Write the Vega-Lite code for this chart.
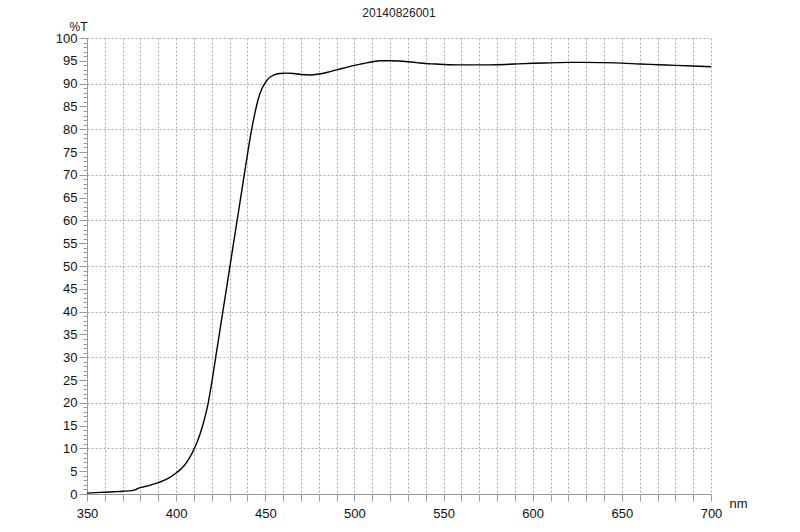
{
  "$schema": "https://vega.github.io/schema/vega-lite/v6.json",
  "autosize": {"type": "none"},
  "width": 624,
  "height": 456,
  "padding": {"left": 87, "top": 38, "right": 89, "bottom": 38},
  "background": "white",
  "config": {"view": {"stroke": null}, "font": "Liberation Sans"},
  "title": {"text": "20140826001", "fontSize": 12, "fontWeight": "normal", "font": "Liberation Sans", "color": "#222", "anchor": "middle", "offset": 0},
  "data": {"values": [
    {"nm": 350, "T": 0.2}, {"nm": 355, "T": 0.3}, {"nm": 360, "T": 0.4}, {"nm": 365, "T": 0.5},
    {"nm": 370, "T": 0.6}, {"nm": 375, "T": 0.75}, {"nm": 377, "T": 0.9}, {"nm": 379, "T": 1.3},
    {"nm": 382, "T": 1.6}, {"nm": 385, "T": 1.9}, {"nm": 390, "T": 2.5}, {"nm": 395, "T": 3.3},
    {"nm": 400, "T": 4.6}, {"nm": 403, "T": 5.6}, {"nm": 406, "T": 7.0}, {"nm": 409, "T": 9.0},
    {"nm": 412, "T": 11.6}, {"nm": 415, "T": 15.2}, {"nm": 418, "T": 20.0}, {"nm": 420, "T": 24.5},
    {"nm": 422, "T": 29.5}, {"nm": 424, "T": 34.5}, {"nm": 426, "T": 39.5}, {"nm": 428, "T": 44.5},
    {"nm": 430, "T": 49.5}, {"nm": 432, "T": 54.5}, {"nm": 434, "T": 59.5}, {"nm": 436, "T": 64.5},
    {"nm": 438, "T": 69.5}, {"nm": 440, "T": 74.5}, {"nm": 442, "T": 79.2}, {"nm": 444, "T": 83.2},
    {"nm": 446, "T": 86.5}, {"nm": 448, "T": 88.8}, {"nm": 450, "T": 90.2}, {"nm": 452, "T": 91.2},
    {"nm": 455, "T": 91.9}, {"nm": 458, "T": 92.2}, {"nm": 462, "T": 92.3}, {"nm": 466, "T": 92.2},
    {"nm": 470, "T": 92.0}, {"nm": 475, "T": 91.9}, {"nm": 480, "T": 92.1}, {"nm": 485, "T": 92.5},
    {"nm": 490, "T": 93.0}, {"nm": 495, "T": 93.5}, {"nm": 500, "T": 94.0}, {"nm": 505, "T": 94.4},
    {"nm": 510, "T": 94.8}, {"nm": 515, "T": 95.0}, {"nm": 520, "T": 95.0}, {"nm": 525, "T": 94.95},
    {"nm": 530, "T": 94.8}, {"nm": 535, "T": 94.6}, {"nm": 540, "T": 94.4}, {"nm": 545, "T": 94.3},
    {"nm": 550, "T": 94.2}, {"nm": 560, "T": 94.1}, {"nm": 570, "T": 94.1}, {"nm": 580, "T": 94.15},
    {"nm": 590, "T": 94.3}, {"nm": 600, "T": 94.45}, {"nm": 610, "T": 94.55}, {"nm": 620, "T": 94.65},
    {"nm": 630, "T": 94.65}, {"nm": 640, "T": 94.6}, {"nm": 650, "T": 94.5}, {"nm": 660, "T": 94.3},
    {"nm": 670, "T": 94.15}, {"nm": 680, "T": 94.0}, {"nm": 690, "T": 93.85}, {"nm": 700, "T": 93.7}
  ]},
  "mark": {"type": "line", "color": "#000", "strokeWidth": 1.4, "interpolate": "monotone"},
  "encoding": {
    "x": {
      "field": "nm", "type": "quantitative",
      "scale": {"domain": [350, 700], "nice": false, "zero": false},
      "axis": {
        "values": [350,360,370,380,390,400,410,420,430,440,450,460,470,480,490,500,510,520,530,540,550,560,570,580,590,600,610,620,630,640,650,660,670,680,690,700],
        "labelExpr": "datum.value % 50 === 0 ? datum.label : ''",
        "labelOverlap": false,
        "labelFlush": false,
        "labelFont": "Liberation Sans", "labelFontSize": 13, "labelColor": "#111",
        "labelPadding": 6,
        "tickSize": 7, "tickColor": "#999", "tickWidth": 1,
        "domainColor": "#999", "domainWidth": 1,
        "grid": true, "gridColor": "#aaa", "gridDash": [2, 2], "gridWidth": 1,
        "title": "nm", "titleFont": "Liberation Sans", "titleFontSize": 13, "titleFontWeight": "normal", "titleColor": "#111",
        "titleX": 651, "titleY": 13, "titleAlign": "center", "titleBaseline": "alphabetic", "titleAnchor": null
      }
    },
    "y": {
      "field": "T", "type": "quantitative",
      "scale": {"domain": [0, 100], "nice": false},
      "axis": {
        "values": [0,1,2,3,4,5,6,7,8,9,10,11,12,13,14,15,16,17,18,19,20,21,22,23,24,25,26,27,28,29,30,31,32,33,34,35,36,37,38,39,40,41,42,43,44,45,46,47,48,49,50,51,52,53,54,55,56,57,58,59,60,61,62,63,64,65,66,67,68,69,70,71,72,73,74,75,76,77,78,79,80,81,82,83,84,85,86,87,88,89,90,91,92,93,94,95,96,97,98,99,100],
        "labelExpr": "datum.value % 5 === 0 ? datum.label : ''",
        "labelOverlap": false,
        "labelFlush": false,
        "labelFont": "Liberation Sans", "labelFontSize": 13, "labelColor": "#111",
        "labelPadding": 2,
        "tickSize": {"condition": {"test": "datum.value % 5 === 0", "value": 8}, "value": 4},
        "tickColor": "#999", "tickWidth": 1,
        "domainColor": "#999", "domainWidth": 1,
        "grid": true, "gridColor": "#aaa", "gridDash": [2, 2], "gridWidth": 1,
        "gridOpacity": {"condition": {"test": "datum.value % 10 === 0", "value": 1}, "value": 0},
        "title": "%T", "titleFont": "Liberation Sans", "titleFontSize": 12, "titleFontWeight": "normal", "titleColor": "#111",
        "titleAngle": 0, "titleX": -9, "titleY": -8, "titleAlign": "center", "titleBaseline": "alphabetic", "titleAnchor": null
      }
    }
  }
}
